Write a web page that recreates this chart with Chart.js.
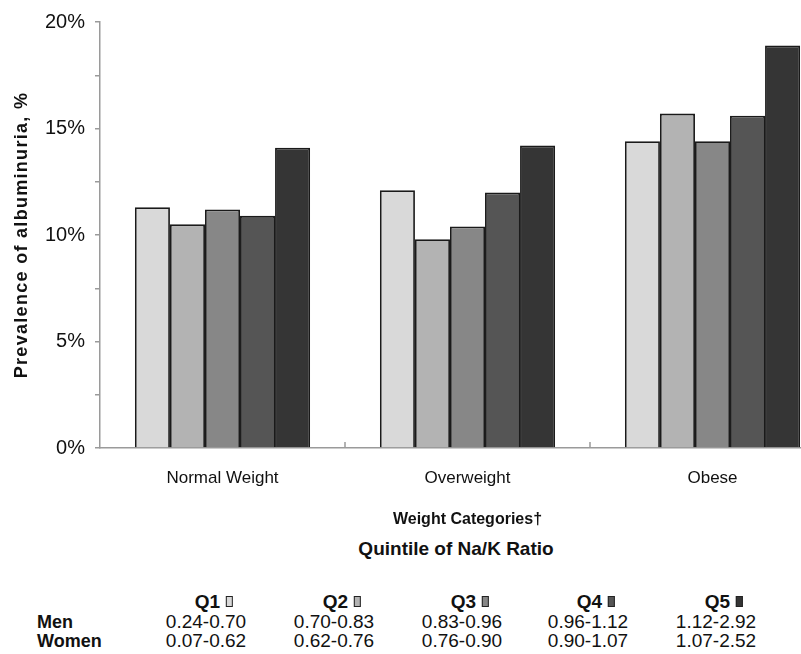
<!DOCTYPE html>
<html lang="en">
<head>
<meta charset="UTF-8">
<title>Prevalence of albuminuria by Na/K ratio quintile</title>
<script src="https://cdn.jsdelivr.net/npm/chart.js"></script>
<style>
    body {
        margin: 0;
        width: 801px;
        height: 654px;
        overflow: hidden;
        position: relative;
        background: #fff;
        font-family: 'Liberation Sans', Arial, sans-serif;
        color: #111;
    }
    #wrap {
        position: absolute;
        left: 0;
        top: 0;
        width: 840px;
        height: 535px;
    }
    .subhead {
        position: absolute;
        top: 538px;
        left: 456px;
        transform: translateX(-50%);
        white-space: nowrap;
        font-weight: bold;
        font-size: 19px;
    }
    .cell {
        position: absolute;
        white-space: nowrap;
        transform: translateX(-50%);
        font-size: 19px;
        line-height: 20px;
    }
    .rowlabel {
        position: absolute;
        left: 37px;
        font-weight: bold;
        font-size: 18px;
        line-height: 20px;
    }
    .head {
        font-weight: bold;
        font-size: 19px;
    }
    .swatch {
        display: inline-block;
        width: 5px;
        height: 9px;
        border: 1px solid #222;
        margin-left: 6px;
        vertical-align: 1px;
    }
</style>
</head>
<body>
<div id="wrap"><canvas id="chart"></canvas></div>
<div class="subhead">Quintile of Na/K Ratio</div>
<div id="table"></div>

<script>
    // values (prevalence, %)
    const categories = ['Normal Weight', 'Overweight', 'Obese'];
    const quintiles = ['Q1', 'Q2', 'Q3', 'Q4', 'Q5'];
    const q1 = [11.3, 12.1, 14.4];
    const q2 = [10.5, 9.8, 15.7];
    const q3 = [11.2, 10.4, 14.4];
    const q4 = [10.9, 12.0, 15.6];
    const q5 = [14.1, 14.2, 18.9];
    const menRanges = ['0.24-0.70', '0.70-0.83', '0.83-0.96', '0.96-1.12', '1.12-2.92'];
    const womenRanges = ['0.07-0.62', '0.62-0.76', '0.76-0.90', '0.90-1.07', '1.07-2.52'];
    const yTicks = [0, 5, 10, 15, 20];

    const shades = ['#d9d9d9', '#b3b3b3', '#878787', '#555555', '#353535'];
    const series = [q1, q2, q3, q4, q5];

    // y title with letter spacing + small inside ticks between categories
    const extras = {
        id: 'extras',
        afterDraw(chart) {
            const ctx = chart.ctx;
            const area = chart.chartArea;
            const xs = chart.scales.x;
            ctx.save();
            ctx.strokeStyle = '#9a9a9a';
            ctx.lineWidth = 1.5;
            for (let i = 1; i < categories.length; i++) {
                const x = (xs.getPixelForValue(i - 1) + xs.getPixelForValue(i)) / 2;
                ctx.beginPath();
                ctx.moveTo(x, area.bottom);
                ctx.lineTo(x, area.bottom - 6);
                ctx.stroke();
            }
            ctx.translate(22, (area.top + area.bottom) / 2);
            ctx.rotate(-Math.PI / 2);
            ctx.font = 'bold 18px "Liberation Sans", Arial, sans-serif';
            ctx.letterSpacing = '1.3px';
            ctx.fillStyle = '#111';
            ctx.textAlign = 'center';
            ctx.textBaseline = 'middle';
            ctx.fillText('Prevalence of albuminuria, %', 0, 0);
            ctx.restore();
        }
    };

    Chart.defaults.font.family = "'Liberation Sans', Arial, sans-serif";
    Chart.defaults.color = '#111';

    new Chart(document.getElementById('chart'), {
        type: 'bar',
        data: {
            labels: categories,
            datasets: series.map((vals, i) => ({
                label: quintiles[i],
                data: vals,
                backgroundColor: shades[i],
                borderColor: '#1a1a1a',
                borderWidth: 1.8,
                categoryPercentage: 0.715,
                barPercentage: 1.0
            }))
        },
        options: {
            responsive: true,
            maintainAspectRatio: false,
            animation: false,
            layout: { padding: { top: 21, right: 5, left: 0, bottom: 0 } },
            plugins: {
                legend: { display: false },
                tooltip: { enabled: false }
            },
            scales: {
                x: {
                    grid: { display: true, drawOnChartArea: false, drawTicks: false, color: 'transparent' },
                    border: { display: true, color: '#9a9a9a', width: 1.5 },
                    ticks: { padding: 20, font: { size: 17 }, maxRotation: 0 },
                    title: {
                        display: true,
                        text: 'Weight Categories\u2020',
                        font: { size: 16, weight: 'bold' },
                        padding: { top: 0, bottom: 6 }
                    },
                    afterFit: s => { s.height = 87; }
                },
                y: {
                    min: 0,
                    max: 20,
                    ticks: {
                        stepSize: 2.5,
                        padding: 10,
                        font: { size: 20 },
                        callback: v => yTicks.includes(v) ? v + '%' : ''
                    },
                    grid: { drawOnChartArea: false, tickLength: 5, color: '#9a9a9a', lineWidth: 1.5 },
                    border: { color: '#9a9a9a', width: 1.5 },
                    afterFit: s => { s.width = 100; }
                }
            }
        },
        plugins: [extras]
    });

    // table of quintile ranges under the chart
    const table = document.getElementById('table');
    const colX = [206, 334, 462, 588, 716];
    const rowY = [592, 612, 631];
    function addRowLabel(text, y) {
        const d = document.createElement('div');
        d.className = 'rowlabel';
        d.style.top = y + 'px';
        d.textContent = text;
        table.appendChild(d);
    }
    addRowLabel('Men', rowY[1]);
    addRowLabel('Women', rowY[2]);
    quintiles.forEach((q, i) => {
        const h = document.createElement('div');
        h.className = 'cell head';
        h.style.left = (colX[i] + 8) + 'px';
        h.style.top = rowY[0] + 'px';
        h.innerHTML = q + '<span class="swatch" style="background:' + shades[i] + '"></span>';
        table.appendChild(h);
        [menRanges, womenRanges].forEach((arr, r) => {
            const c = document.createElement('div');
            c.className = 'cell';
            c.style.left = colX[i] + 'px';
            c.style.top = rowY[r + 1] + 'px';
            c.textContent = arr[i];
            table.appendChild(c);
        });
    });
</script>
</body>
</html>
